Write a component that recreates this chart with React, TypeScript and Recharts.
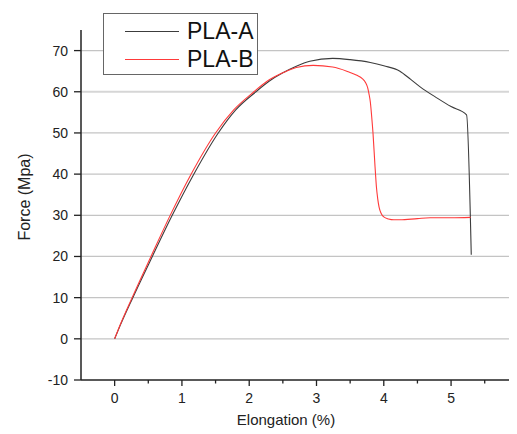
import React from 'react';
import { LineChart, Line, XAxis, YAxis, ReferenceLine, Legend, Label } from 'recharts';

const elongA = [0, 0.05, 0.27, 0.56, 0.85, 1.17, 1.54, 1.8, 2.1, 2.3, 2.5, 2.7, 2.9, 3.24, 3.5, 3.8, 4.0, 4.24, 4.4, 4.54, 4.8, 5.0, 5.23, 5.3];
const forceA = [0, 2, 10, 20, 29.8, 39.8, 50, 55.6, 60, 62.6, 64.6, 66.2, 67.4, 68.1, 67.8, 67.1, 66.3, 65, 63, 61.2, 58.4, 56.4, 54.4, 20.4];

const elongB = [0, 0.05, 0.26, 0.54, 0.82, 1.13, 1.5, 1.77, 2.07, 2.26, 2.5, 2.7, 2.95, 3.24, 3.45, 3.6, 3.68, 3.73, 3.76, 3.78, 3.8, 3.82, 3.84, 3.87, 3.89, 3.91, 3.93, 3.96, 4.0, 4.07, 4.15, 4.24, 4.5, 4.69, 5.0, 5.29];
const forceB = [0, 2.1, 10, 20, 29.8, 39.8, 50, 55.6, 60, 62.5, 64.6, 65.9, 66.4, 66.0, 65.0, 64.0, 63.2, 62.2, 61.0, 59.5, 57.5, 54, 49.9, 41.8, 37, 34, 32, 30.5, 29.6, 29.1, 28.9, 28.9, 29.2, 29.4, 29.4, 29.5];

const seriesNames = ['PLA-A', 'PLA-B'];
const seriesColors = ['#3c3c3c', '#ff3a3a'];

const xTicks = [0, 0.5, 1, 1.5, 2, 2.5, 3, 3.5, 4, 4.5, 5, 5.5, 6];
const yTicks = [-10, -5, 0, 5, 10, 15, 20, 25, 30, 35, 40, 45, 50, 55, 60, 65, 70];
const gridValues = [0, 10, 20, 30, 40, 50, 60, 70];

const dataA = elongA.map((x, i) => ({ x, y: forceA[i] }));
const dataB = elongB.map((x, i) => ({ x, y: forceB[i] }));

const FONT = '"Liberation Sans", Arial, sans-serif';

const YTick = (props: any) => {
  const { x, y, payload } = props;
  const v = payload.value;
  const major = Math.round(v) % 10 === 0;
  return (
    <g>
      <line x1={x - (major ? 7 : 4)} x2={x} y1={y} y2={y} stroke="#222" strokeWidth={1.3} />
      {major && (
        <text x={x - 13} y={y + 5} textAnchor="end" fontSize={14} fill="#222" fontFamily={FONT}>
          {v}
        </text>
      )}
    </g>
  );
};

const XTick = (props: any) => {
  const { x, y, payload } = props;
  const v = payload.value;
  const major = Number.isInteger(v);
  return (
    <g>
      <line x1={x} x2={x} y1={y} y2={y + (major ? 6 : 3.5)} stroke="#222" strokeWidth={1.3} />
      {major && (
        <text x={x} y={y + 23} textAnchor="middle" fontSize={14} fill="#222" fontFamily={FONT}>
          {v}
        </text>
      )}
    </g>
  );
};

const LegendBox = () => (
  <div
    style={{
      width: 153,
      height: 60,
      background: '#fff',
      border: '1px solid #666',
      fontFamily: FONT,
      position: 'relative',
    }}
  >
    {seriesNames.map((n, i) => (
      <div key={n} style={{ position: 'absolute', left: 0, top: 4 + i * 28, height: 26, display: 'flex', alignItems: 'center' }}>
        <div style={{ marginLeft: 21, width: 54, height: 0, borderTop: `1.3px solid ${seriesColors[i]}` }} />
        <span style={{ marginLeft: 8, fontSize: 23, color: '#111', lineHeight: '26px' }}>{n}</span>
      </div>
    ))}
  </div>
);

export default function App() {
  return (
    <div style={{ width: 509, height: 426, overflow: 'hidden', position: 'relative' }}>
      <LineChart width={560} height={426} margin={{ top: 22, right: 16, bottom: 0, left: 0 }}>
        {gridValues.map((g) => (
          <ReferenceLine key={g} y={g} stroke={g === 60 ? '#d6d6d6' : '#c4c4c4'} strokeWidth={g === 60 ? 2 : 1.2} ifOverflow="visible" />
        ))}
        <XAxis
          dataKey="x"
          type="number"
          domain={[-0.5, 6.5]}
          ticks={xTicks}
          tick={<XTick />}
          tickLine={false}
          tickSize={0}
          tickMargin={0}
          height={54}
          axisLine={{ stroke: '#222', strokeWidth: 1.5 }}
          allowDataOverflow
        >
          <Label
            content={() => (
              <text x={278} y={417} textAnchor="middle" fontSize={15} fill="#222" fontFamily={FONT}>
                Elongation (%)
              </text>
            )}
          />
        </XAxis>
        <YAxis
          dataKey="y"
          type="number"
          domain={[-10, 75]}
          ticks={yTicks}
          tick={<YTick />}
          tickLine={false}
          tickSize={0}
          tickMargin={0}
          width={73}
          axisLine={{ stroke: '#222', strokeWidth: 1.5 }}
          allowDataOverflow
        >
          <Label
            content={() => (
              <text x={22} y={189} textAnchor="middle" fontSize={16} fill="#222" fontFamily={FONT} transform="rotate(-90, 22, 189)">
                Force (Mpa)
              </text>
            )}
          />
        </YAxis>
        <Line data={dataA} dataKey="y" name={seriesNames[0]} type="monotone" stroke={seriesColors[0]} strokeWidth={1.1} dot={false} isAnimationActive={false} />
        <Line data={dataB} dataKey="y" name={seriesNames[1]} type="monotone" stroke={seriesColors[1]} strokeWidth={1.1} dot={false} isAnimationActive={false} />
        <Legend
          layout="vertical"
          align="center"
          verticalAlign="middle"
          content={<LegendBox />}
          wrapperStyle={{ position: 'absolute', left: 95, top: 5, width: 'auto' }}
        />
      </LineChart>
    </div>
  );
}
